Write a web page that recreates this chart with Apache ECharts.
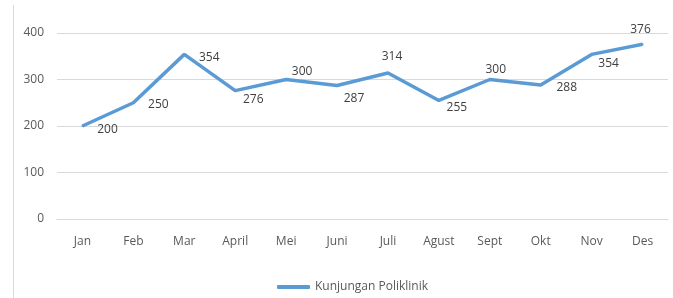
<!DOCTYPE html>
<html>
<head>
<meta charset="utf-8">
<script src="https://cdn.jsdelivr.net/npm/echarts@6/dist/echarts.min.js"></script>
<style>
  html, body { margin: 0; padding: 0; background: #fff; }
  #chart { width: 673px; height: 298px; }
</style>
</head>
<body>
<div id="chart"></div>
<script>
// data
const months = ['Jan', 'Feb', 'Mar', 'April', 'Mei', 'Juni', 'Juli', 'Agust', 'Sept', 'Okt', 'Nov', 'Des']
const kunjungan = [200, 250, 354, 276, 300, 287, 314, 255, 300, 288, 354, 376]
const yTicks = [0, 100, 200, 300, 400]

// label offsets (px) so labels sit like in the original
const labelOffsets = [
  [25, 4], [25, 2], [25, 3], [18, 9], [16, -8], [17, 13],
  [4, -16], [18, 7], [6, -10], [26, 2], [17, 9], [-2, -15],
]

const font = '"Open Sans", sans-serif'

const chart = echarts.init(document.getElementById('chart'))
chart.setOption({
  animation: false,
  textStyle: { fontFamily: font },
  grid: { left: 57, right: 5, top: 33, bottom: 79 },
  graphic: [
    {
      type: 'line',
      shape: { x1: 13.5, y1: 5, x2: 13.5, y2: 298 },
      style: { stroke: '#d9d9d9', lineWidth: 1 },
    },
  ],
  legend: {
    left: 272,
    top: 276,
    itemWidth: 33,
    itemHeight: 4,
    icon: 'roundRect',
    textStyle: { color: '#595959', fontSize: 12, fontFamily: font },
    itemStyle: { color: '#5b9bd5' },
    data: ['Kunjungan Poliklinik'],
  },
  xAxis: {
    type: 'category',
    data: months,
    boundaryGap: true,
    axisLine: { lineStyle: { color: '#d9d9d9' } },
    axisTick: { show: false },
    axisLabel: { color: '#595959', fontSize: 12, margin: 17, fontFamily: font },
  },
  yAxis: {
    type: 'value',
    min: yTicks[0],
    max: yTicks[yTicks.length - 1],
    interval: 100,
    axisLine: { show: false },
    axisTick: { show: false },
    splitLine: { lineStyle: { color: '#d9d9d9' } },
    axisLabel: { color: '#595959', fontSize: 12, margin: 13, fontFamily: font },
  },
  series: [
    {
      name: 'Kunjungan Poliklinik',
      type: 'line',
      symbol: 'circle',
      symbolSize: 2,
      showSymbol: true,
      data: kunjungan.map((v, i) => ({
        value: v,
        label: { offset: labelOffsets[i] },
      })),
      lineStyle: { color: '#5b9bd5', width: 3.5 },
      itemStyle: { color: '#5b9bd5' },
      label: {
        show: true,
        position: 'inside',
        color: '#404040',
        fontSize: 12,
        fontFamily: font,
      },
    },
  ],
})
</script>
</body>
</html>
